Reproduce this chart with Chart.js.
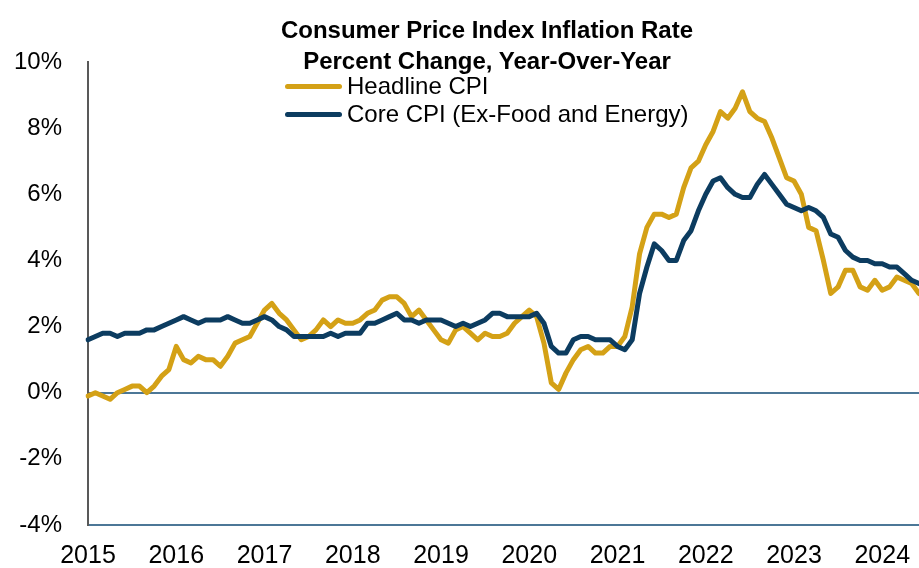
<!DOCTYPE html>
<html>
<head>
<meta charset="utf-8">
<script src="https://cdn.jsdelivr.net/npm/chart.js@4/dist/chart.umd.min.js"></script>
<style>
  html, body { margin: 0; padding: 0; background: #fff; overflow: hidden; }
  #wrap { position: relative; width: 919px; height: 568px; }
  #titulo { position: absolute; left: 0; width: 974px; top: 14px; text-align: center;
    font: bold 24px "Liberation Sans", Arial, sans-serif; line-height: 31px; color: #000; }
  #leyenda { position: absolute; left: 285px; top: 72px; font: 24px "Liberation Sans", Arial, sans-serif; color: #000; }
  .fila { display: flex; align-items: center; height: 28px; }
  .muestra { width: 57px; height: 5px; border-radius: 3px; margin-right: 5px; }
</style>
</head>
<body>
<div id="wrap">
  <canvas id="grafico"></canvas>
  <div id="titulo">Consumer Price Index Inflation Rate<br>Percent Change, Year-Over-Year</div>
  <div id="leyenda"></div>
</div>
<script>
// años del eje x, datos mensuales ene 2015 - jun 2024
var anios = ['2015','2016','2017','2018','2019','2020','2021','2022','2023','2024'];
var mesesUltimoAnio = 6;

var headline = [
  -0.1, 0.0, -0.1, -0.2, 0.0, 0.1, 0.2, 0.2, 0.0, 0.2, 0.5, 0.7,
  1.4, 1.0, 0.9, 1.1, 1.0, 1.0, 0.8, 1.1, 1.5, 1.6, 1.7, 2.1,
  2.5, 2.7, 2.4, 2.2, 1.9, 1.6, 1.7, 1.9, 2.2, 2.0, 2.2, 2.1,
  2.1, 2.2, 2.4, 2.5, 2.8, 2.9, 2.9, 2.7, 2.3, 2.5, 2.2, 1.9,
  1.6, 1.5, 1.9, 2.0, 1.8, 1.6, 1.8, 1.7, 1.7, 1.8, 2.1, 2.3,
  2.5, 2.3, 1.5, 0.3, 0.1, 0.6, 1.0, 1.3, 1.4, 1.2, 1.2, 1.4,
  1.4, 1.7, 2.6, 4.2, 5.0, 5.4, 5.4, 5.3, 5.4, 6.2, 6.8, 7.0,
  7.5, 7.9, 8.5, 8.3, 8.6, 9.1, 8.5, 8.3, 8.2, 7.7, 7.1, 6.5,
  6.4, 6.0, 5.0, 4.9, 4.0, 3.0, 3.2, 3.7, 3.7, 3.2, 3.1, 3.4,
  3.1, 3.2, 3.5, 3.4, 3.3, 3.0
];

var core = [
  1.6, 1.7, 1.8, 1.8, 1.7, 1.8, 1.8, 1.8, 1.9, 1.9, 2.0, 2.1,
  2.2, 2.3, 2.2, 2.1, 2.2, 2.2, 2.2, 2.3, 2.2, 2.1, 2.1, 2.2,
  2.3, 2.2, 2.0, 1.9, 1.7, 1.7, 1.7, 1.7, 1.7, 1.8, 1.7, 1.8,
  1.8, 1.8, 2.1, 2.1, 2.2, 2.3, 2.4, 2.2, 2.2, 2.1, 2.2, 2.2,
  2.2, 2.1, 2.0, 2.1, 2.0, 2.1, 2.2, 2.4, 2.4, 2.3, 2.3, 2.3,
  2.3, 2.4, 2.1, 1.4, 1.2, 1.2, 1.6, 1.7, 1.7, 1.6, 1.6, 1.6,
  1.4, 1.3, 1.6, 3.0, 3.8, 4.5, 4.3, 4.0, 4.0, 4.6, 4.9, 5.5,
  6.0, 6.4, 6.5, 6.2, 6.0, 5.9, 5.9, 6.3, 6.6, 6.3, 6.0, 5.7,
  5.6, 5.5, 5.6, 5.5, 5.3, 4.8, 4.7, 4.3, 4.1, 4.0, 4.0, 3.9,
  3.9, 3.8, 3.8, 3.6, 3.4, 3.3
];

var etiquetasY = [-4, -2, 0, 2, 4, 6, 8, 10];

var colorHeadline = '#D4A116';
var colorCore = '#0C3C60';

var meses = [];
for (var i = 0; i < anios.length; i++) {
  var n = (i == anios.length - 1) ? mesesUltimoAnio : 12;
  for (var m = 1; m <= n; m++) {
    meses.push(anios[i] + '-' + (m < 10 ? '0' + m : m));
  }
}

var series = [
  { label: 'Headline CPI', data: headline, borderColor: colorHeadline, order: 1 },
  { label: 'Core CPI (Ex-Food and Energy)', data: core, borderColor: colorCore, order: 0 }
];

var fuente = '"Liberation Sans", Arial, sans-serif';

var grafico = new Chart(document.getElementById('grafico').getContext('2d'), {
  type: 'line',
  data: {
    labels: meses,
    datasets: series.map(function(s) {
      return {
        label: s.label,
        data: s.data,
        borderColor: s.borderColor,
        backgroundColor: s.borderColor,
        borderWidth: 5,
        pointRadius: 0,
        tension: 0,
        borderJoinStyle: 'round',
        borderCapStyle: 'round',
        order: s.order
      };
    })
  },
  options: {
    responsive: true,
    maintainAspectRatio: false,
    animation: false,
    layout: { padding: { top: 62, right: 0, left: 0, bottom: 0 } },
    plugins: {
      legend: { display: false },
      title: { display: false },
      tooltip: { enabled: false }
    },
    scales: {
      x: {
        type: 'category',
        grid: { display: false, drawTicks: false },
        border: { display: true, color: '#4C7797', width: 2 },
        ticks: {
          autoSkip: false,
          maxRotation: 0,
          minRotation: 0,
          padding: 16,
          color: '#000',
          font: { family: fuente, size: 25 },
          callback: function(val, idx) {
            var l = meses[idx];
            return l.slice(5) == '01' ? l.slice(0, 4) : '';
          }
        },
        afterFit: function(scale) {
          scale.height = 43;
          scale.paddingLeft = 0;
          scale.paddingRight = 0;
        }
      },
      y: {
        min: -4,
        max: 10,
        afterBuildTicks: function(scale) {
          scale.ticks = etiquetasY.map(function(v) { return { value: v }; });
        },
        grid: {
          drawTicks: false,
          lineWidth: 2,
          color: function(ctx) {
            return ctx.tick && ctx.tick.value === 0 ? '#4C7797' : 'rgba(0,0,0,0)';
          }
        },
        border: { display: true, color: '#595959', width: 2 },
        ticks: {
          padding: 26,
          color: '#000',
          font: { family: fuente, size: 24 },
          callback: function(v) { return v + '%'; }
        },
        afterFit: function(scale) { scale.width = 88; }
      }
    }
  }
});

// leyenda en html, sacada de los datasets
var leyenda = document.getElementById('leyenda');
grafico.data.datasets.forEach(function(ds) {
  var fila = document.createElement('div');
  fila.className = 'fila';
  var muestra = document.createElement('span');
  muestra.className = 'muestra';
  muestra.style.background = ds.borderColor;
  var texto = document.createElement('span');
  texto.textContent = ds.label;
  fila.appendChild(muestra);
  fila.appendChild(texto);
  leyenda.appendChild(fila);
});
</script>
</body>
</html>
